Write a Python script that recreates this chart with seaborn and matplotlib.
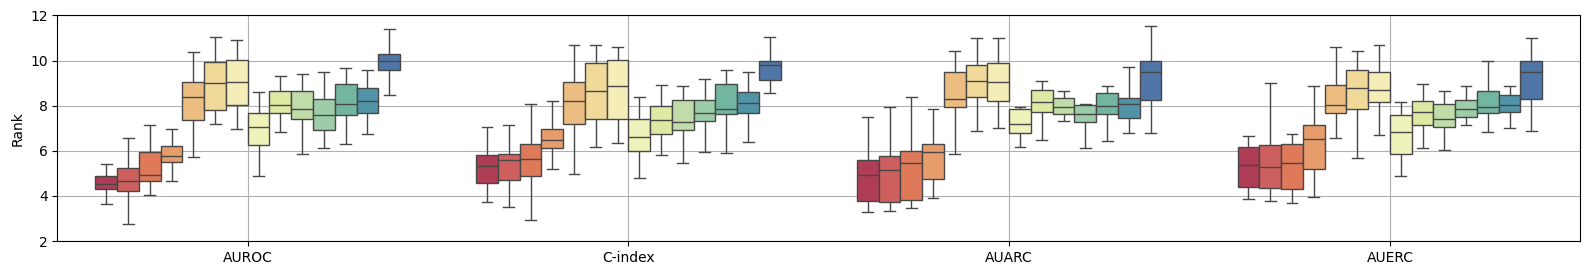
import numpy as np
import pandas as pd
import matplotlib
matplotlib.use("Agg")
import matplotlib.pyplot as plt
import seaborn as sns


metrics = ["AUROC", "C-index", "AUARC", "AUERC"]
methods = [f"M{i}" for i in range(1, 15)]

# per method: whisker low, q1, median, q3, whisker high
auroc = [
    [3.62, 4.31, 4.54, 4.90, 5.43],
    [2.74, 4.23, 4.67, 5.25, 6.58],
    [4.02, 4.67, 4.94, 5.95, 7.16],
    [4.67, 5.52, 5.78, 6.21, 6.95],
    [5.71, 7.35, 8.40, 9.07, 10.36],
    [7.20, 7.80, 9.02, 9.94, 11.04],
    [6.98, 8.03, 9.04, 10.04, 10.93],
    [4.90, 6.27, 7.04, 7.69, 8.62],
    [6.85, 7.69, 8.05, 8.67, 9.33],
    [5.87, 7.43, 7.87, 8.67, 9.42],
    [6.11, 6.91, 7.60, 8.30, 9.47],
    [6.32, 7.60, 8.09, 8.98, 9.69],
    [6.76, 7.69, 8.20, 8.76, 9.56],
    [8.49, 9.56, 10.00, 10.31, 11.38],
]
cindex = [
    [3.74, 4.59, 5.34, 5.81, 7.07],
    [3.52, 4.72, 5.61, 5.86, 7.12],
    [2.94, 4.90, 5.65, 6.30, 8.09],
    [5.18, 6.14, 6.46, 6.97, 8.22],
    [4.99, 7.20, 8.22, 9.05, 10.68],
    [6.18, 7.43, 8.67, 9.87, 10.68],
    [6.36, 7.43, 8.85, 10.03, 10.58],
    [4.81, 6.01, 6.63, 7.41, 8.40],
    [5.83, 6.76, 7.38, 7.99, 8.93],
    [5.47, 6.94, 7.29, 8.25, 8.89],
    [5.96, 7.34, 7.68, 8.25, 9.20],
    [5.92, 7.65, 7.87, 8.98, 9.60],
    [6.41, 7.69, 8.11, 8.62, 9.47],
    [8.58, 9.14, 9.78, 10.00, 11.04],
]
auarc = [
    [3.30, 3.79, 4.94, 5.61, 7.51],
    [3.34, 3.74, 5.16, 5.78, 7.96],
    [3.48, 3.83, 5.47, 6.01, 8.40],
    [3.92, 4.76, 5.96, 6.32, 7.83],
    [5.87, 7.96, 8.31, 9.47, 10.40],
    [6.89, 8.40, 9.11, 9.82, 10.98],
    [7.03, 8.22, 9.04, 9.91, 10.98],
    [6.18, 6.80, 7.20, 7.83, 7.94],
    [6.49, 7.74, 8.18, 8.71, 9.11],
    [7.34, 7.65, 7.94, 8.34, 8.67],
    [6.14, 7.29, 7.65, 8.05, 8.09],
    [6.45, 7.65, 8.00, 8.58, 8.85],
    [6.80, 7.47, 8.09, 8.36, 9.73],
    [6.80, 8.27, 9.47, 10.00, 11.55],
]
auerc = [
    [3.88, 4.41, 5.38, 6.18, 6.67],
    [3.79, 4.36, 5.30, 6.27, 9.02],
    [3.70, 4.32, 5.47, 6.32, 6.76],
    [3.96, 5.21, 6.54, 7.16, 8.89],
    [6.58, 7.69, 8.05, 8.93, 10.62],
    [5.70, 7.83, 8.76, 9.60, 10.40],
    [6.72, 8.14, 8.71, 9.51, 10.71],
    [4.90, 5.87, 6.85, 7.60, 8.18],
    [6.14, 7.16, 7.74, 8.22, 8.98],
    [6.05, 7.07, 7.43, 8.09, 8.67],
    [7.12, 7.51, 7.83, 8.27, 8.85],
    [6.85, 7.69, 7.96, 8.67, 10.00],
    [7.03, 7.74, 8.05, 8.45, 8.89],
    [6.89, 8.31, 9.47, 9.96, 10.98],
]


def build_frame():
    rows = []
    for metric, stats in zip(metrics, [auroc, cindex, auarc, auerc]):
        for method, vals in zip(methods, stats):
            for v in vals:
                rows.append({"metric": metric, "method": method, "rank": v})
    return pd.DataFrame(rows)


df = build_frame()

fig, ax = plt.subplots(figsize=(15.89, 2.75), dpi=100)
sns.boxplot(
    data=df, x="metric", y="rank", hue="method",
    order=metrics, hue_order=methods,
    palette="Spectral", whis=(0, 100), legend=False, ax=ax,
)
ax.set_ylim(2, 12)
ax.set_xlim(-0.5, 3.5)
ax.set_xlabel("")
ax.set_ylabel("Rank")
ax.grid(True)
ax.set_axisbelow(True)

fig.subplots_adjust(left=0.0361, right=0.9945, top=0.944, bottom=0.1236)
fig.savefig("out.png", dpi=100)
